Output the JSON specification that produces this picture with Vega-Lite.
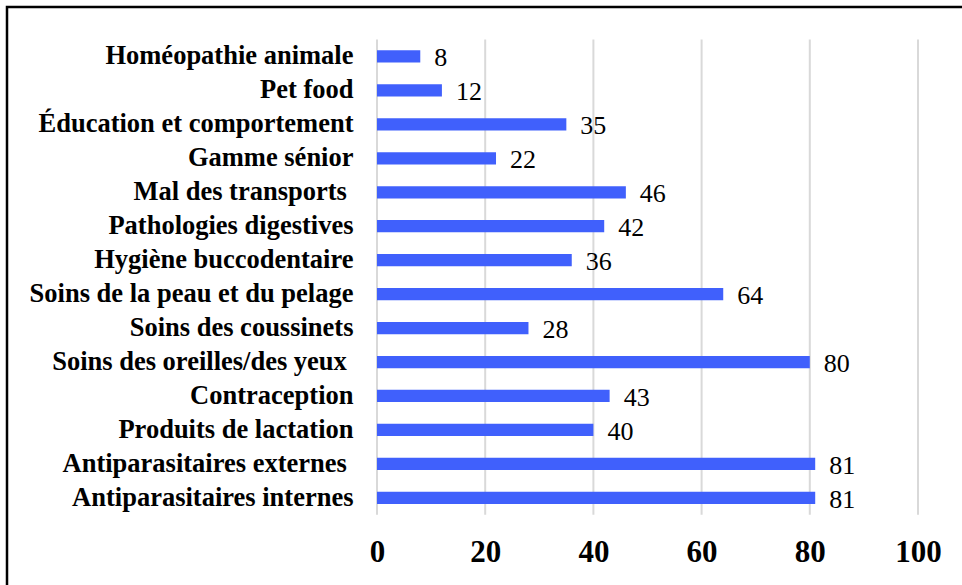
{
  "$schema": "https://vega.github.io/schema/vega-lite/v6.json",
  "width": 962,
  "height": 585,
  "autosize": {"type": "fit", "contains": "padding"},
  "padding": {"left": 7, "top": 7, "right": -20, "bottom": -20},
  "background": "white",
  "config": {
    "view": {"stroke": "#000000", "strokeWidth": 2.5},
    "font": "Liberation Serif, Times New Roman, serif"
  },
  "datasets": {
    "bars": [
      {"cat": "Homéopathie animale", "value": 8},
      {"cat": "Pet food", "value": 12},
      {"cat": "Éducation et comportement", "value": 35},
      {"cat": "Gamme sénior", "value": 22},
      {"cat": "Mal des transports\u00a0\u200b", "value": 46},
      {"cat": "Pathologies digestives", "value": 42},
      {"cat": "Hygiène buccodentaire", "value": 36},
      {"cat": "Soins de la peau et du pelage", "value": 64},
      {"cat": "Soins des coussinets", "value": 28},
      {"cat": "Soins des oreilles/des yeux\u00a0\u200b", "value": 80},
      {"cat": "Contraception", "value": 43},
      {"cat": "Produits de lactation", "value": 40},
      {"cat": "Antiparasitaires externes\u00a0\u200b", "value": 81},
      {"cat": "Antiparasitaires internes", "value": 81}
    ],
    "grid": [
      {"v": 0, "a": "Homéopathie animale", "b": "Antiparasitaires internes"},
      {"v": 20, "a": "Homéopathie animale", "b": "Antiparasitaires internes"},
      {"v": 40, "a": "Homéopathie animale", "b": "Antiparasitaires internes"},
      {"v": 60, "a": "Homéopathie animale", "b": "Antiparasitaires internes"},
      {"v": 80, "a": "Homéopathie animale", "b": "Antiparasitaires internes"},
      {"v": 100, "a": "Homéopathie animale", "b": "Antiparasitaires internes"}
    ]
  },
  "layer": [
    {
      "data": {"name": "grid"},
      "mark": {"type": "rule", "color": "#d9d9d9", "strokeWidth": 2},
      "encoding": {
        "x": {"field": "v", "type": "quantitative"},
        "y": {"field": "a", "type": "nominal", "bandPosition": 0},
        "y2": {"field": "b", "bandPosition": 1}
      }
    },
    {
      "data": {"name": "bars"},
      "mark": {"type": "bar", "color": "#4060fc", "height": {"band": 0.36}},
      "encoding": {
        "x": {"field": "value", "type": "quantitative"},
        "y": {"field": "cat", "type": "nominal"}
      }
    },
    {
      "data": {"name": "bars"},
      "mark": {"type": "text", "align": "left", "baseline": "middle", "dx": 14, "dy": 2, "fontSize": 26, "font": "Liberation Serif, Times New Roman, serif", "color": "#000000"},
      "encoding": {
        "x": {"field": "value", "type": "quantitative"},
        "y": {"field": "cat", "type": "nominal"},
        "text": {"field": "value", "type": "quantitative"}
      }
    }
  ],
  "encoding": {
    "x": {
      "type": "quantitative",
      "scale": {"domain": [-68.39, 111.83], "nice": false, "zero": false},
      "axis": {
        "title": null,
        "values": [0, 20, 40, 60, 80, 100],
        "grid": false,
        "domain": false,
        "ticks": false,
        "tickSize": 0,
        "offset": -90,
        "labelPadding": 37,
        "labelBaseline": "middle",
        "labelFont": "Liberation Serif, Times New Roman, serif",
        "labelFontWeight": "bold",
        "labelFontSize": 31,
        "labelColor": "#000000"
      }
    },
    "y": {
      "type": "nominal",
      "sort": null,
      "scale": {
        "type": "band",
        "domain": ["Homéopathie animale", "Pet food", "Éducation et comportement", "Gamme sénior", "Mal des transports\u00a0\u200b", "Pathologies digestives", "Hygiène buccodentaire", "Soins de la peau et du pelage", "Soins des coussinets", "Soins des oreilles/des yeux\u00a0\u200b", "Contraception", "Produits de lactation", "Antiparasitaires externes\u00a0\u200b", "Antiparasitaires internes"],
        "range": [32.5, 507.8],
        "paddingInner": 0,
        "paddingOuter": 0
      },
      "axis": {
        "title": null,
        "domain": false,
        "ticks": false,
        "tickSize": 0,
        "offset": -370,
        "labelPadding": 24,
        "labelLimit": 0,
        "labelFont": "Liberation Serif, Times New Roman, serif",
        "labelFontWeight": "bold",
        "labelFontSize": 26.5,
        "labelColor": "#000000"
      }
    }
  }
}
